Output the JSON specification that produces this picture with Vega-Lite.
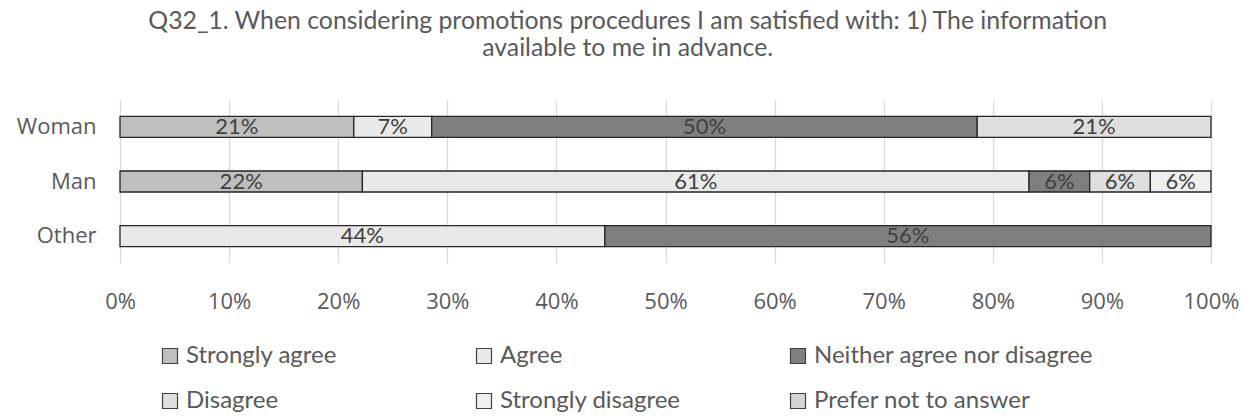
{
  "$schema": "https://vega.github.io/schema/vega-lite/v6.json",
  "width": 1091,
  "height": 163,
  "autosize": {"type": "none"},
  "padding": {"left": 120, "top": 100, "right": 49, "bottom": 157},
  "background": "white",
  "title": {
    "text": ["Q32_1. When considering promotions procedures I am satisfied with: 1) The information", "available to me in advance."],
    "font": "Lato",
    "fontSize": 24.8,
    "fontWeight": "normal",
    "color": "#595959",
    "anchor": "middle",
    "frame": "bounds",
    "lineHeight": 27,
    "offset": 39
  },
  "data": {
    "values": [
      {"gender": "Woman", "category": "Strongly agree", "order": 1, "value": 0.2143},
      {"gender": "Woman", "category": "Agree", "order": 2, "value": 0.0714},
      {"gender": "Woman", "category": "Neither agree nor disagree", "order": 3, "value": 0.5},
      {"gender": "Woman", "category": "Disagree", "order": 4, "value": 0.2143},
      {"gender": "Man", "category": "Strongly agree", "order": 1, "value": 0.2222},
      {"gender": "Man", "category": "Agree", "order": 2, "value": 0.6111},
      {"gender": "Man", "category": "Neither agree nor disagree", "order": 3, "value": 0.0556},
      {"gender": "Man", "category": "Disagree", "order": 4, "value": 0.0556},
      {"gender": "Man", "category": "Strongly disagree", "order": 5, "value": 0.0556},
      {"gender": "Other", "category": "Agree", "order": 2, "value": 0.4444},
      {"gender": "Other", "category": "Neither agree nor disagree", "order": 3, "value": 0.5556}
    ]
  },
  "encoding": {
    "y": {
      "field": "gender",
      "type": "nominal",
      "sort": ["Woman", "Man", "Other"],
      "scale": {"paddingInner": 0.615, "paddingOuter": 0.3},
      "axis": {
        "title": null,
        "domain": false,
        "ticks": false,
        "labelFont": "Open Sans",
        "labelFontSize": 22,
        "labelColor": "#595959",
        "labelPadding": 24
      }
    }
  },
  "layer": [
    {
      "mark": {"type": "bar", "stroke": "#262626", "strokeWidth": 1.3},
      "encoding": {
        "x": {
          "field": "value",
          "type": "quantitative",
          "stack": "normalize",
          "scale": {"domain": [0, 1]},
          "axis": {
            "title": null,
            "format": ".0%",
            "values": [0, 0.1, 0.2, 0.3, 0.4, 0.5, 0.6, 0.7, 0.8, 0.9, 1],
            "domain": false,
            "ticks": false,
            "grid": true,
            "gridColor": "#d9d9d9",
            "gridWidth": 1.3,
            "labelFlush": false,
            "labelOverlap": false,
            "labelFont": "Open Sans",
            "labelFontSize": 22,
            "labelColor": "#595959",
            "labelPadding": 28
          }
        },
        "color": {
          "field": "category",
          "type": "nominal",
          "scale": {
            "domain": ["Strongly agree", "Agree", "Neither agree nor disagree", "Disagree", "Strongly disagree", "Prefer not to answer"],
            "range": ["#bfbfbf", "#e9e9e9", "#7f7f7f", "#dedede", "#efefef", "#d4d4d4"]
          },
          "legend": {
            "title": null,
            "orient": "none",
            "legendX": 38,
            "legendY": 244,
            "padding": 0,
            "direction": "horizontal",
            "columns": 3,
            "gridAlign": "all",
            "symbolType": "square",
            "symbolSize": 225,
            "symbolStrokeColor": "#404040",
            "symbolStrokeWidth": 1.2,
            "labelFont": "Lato",
            "labelFontSize": 24,
            "labelColor": "#595959",
            "labelOffset": 4,
            "labelLimit": 500,
            "rowPadding": 21,
            "columnPadding": 6,
            "values": ["Strongly agree", "Agree", "Neither agree nor disagree", "Disagree", "Strongly disagree", "Prefer not to answer"]
          }
        },
        "order": {"field": "order", "type": "quantitative"}
      }
    },
    {
      "mark": {"type": "text", "font": "Lato", "fontSize": 22, "color": "#404040", "baseline": "middle", "align": "center"},
      "encoding": {
        "x": {"field": "value", "type": "quantitative", "stack": "normalize", "bandPosition": 0.5},
        "text": {"field": "value", "type": "quantitative", "format": ".0%"},
        "order": {"field": "order", "type": "quantitative"},
        "detail": {"field": "category", "type": "nominal"}
      }
    }
  ],
  "config": {"view": {"stroke": null}}
}
